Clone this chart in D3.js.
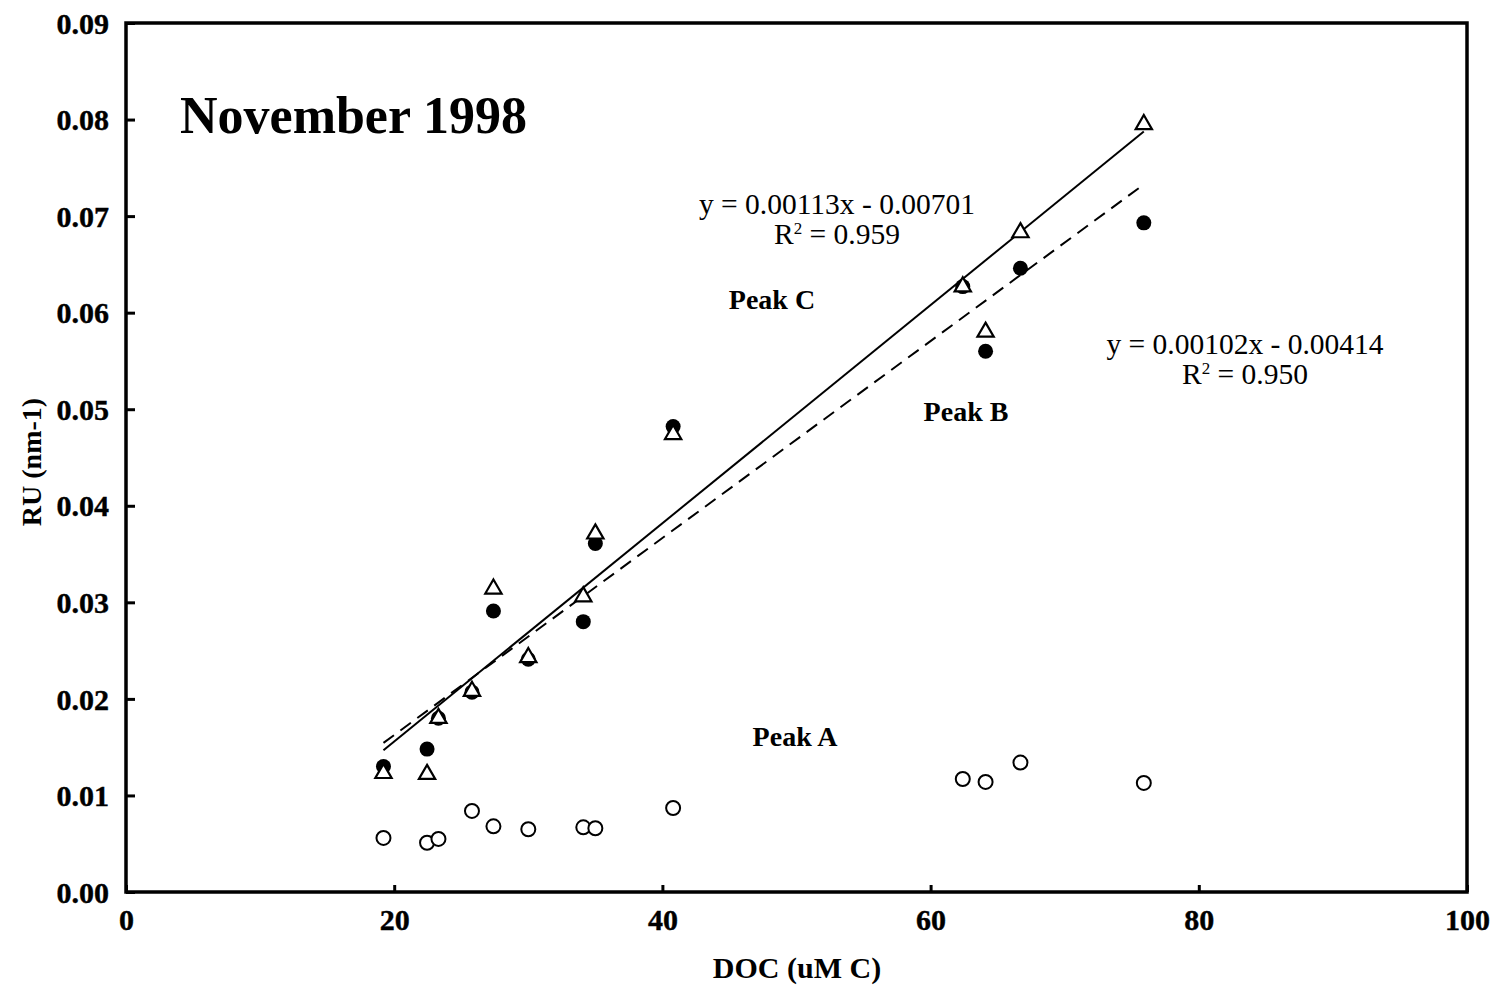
<!DOCTYPE html>
<html>
<head>
<meta charset="utf-8">
<script src="https://cdn.jsdelivr.net/npm/d3@7"></script>
<style>
  html, body { margin: 0; padding: 0; background: #fff; }
  svg { display: block; }
  text { font-family: "Liberation Serif", "Times New Roman", serif; fill: #000; }
</style>
</head>
<body>
<svg id="chart" width="1497" height="993"></svg>
<script>
// DOC concentration of each sample (uM C)
const doc = [19.2, 22.45, 23.3, 25.8, 27.4, 30.0, 34.1, 35.0, 40.8, 62.4, 64.1, 66.7, 75.9];
// Fluorescence intensity (RU, nm-1) for each peak
const peakC = [0.0124, 0.0123, 0.0181, 0.0209, 0.0315, 0.0244, 0.0307, 0.0372, 0.0475, 0.0628, 0.0581, 0.0684, 0.0796];
const peakB = [0.0130, 0.0148, 0.0180, 0.0207, 0.0291, 0.0241, 0.0280, 0.0361, 0.0482, 0.0627, 0.0560, 0.0646, 0.0693];
const peakA = [0.0056, 0.0051, 0.0055, 0.0084, 0.0068, 0.0065, 0.0067, 0.0066, 0.0087, 0.0117, 0.0114, 0.0134, 0.0113];

// Linear fits: [slope, intercept]
const fitC = [0.00113, -0.00701];
const fitB = [0.00102, -0.00414];
const fitRange = [19.2, 75.9];

const xTicks = [0, 20, 40, 60, 80, 100];
const yTicks = [0, 0.01, 0.02, 0.03, 0.04, 0.05, 0.06, 0.07, 0.08, 0.09];

const svg = d3.select("#chart");
const plotL = 126, plotR = 1467, plotT = 23, plotB = 892;

const x = d3.scaleLinear().domain([0, 100]).range([plotL, plotR]);
const y = d3.scaleLinear().domain([0, 0.09]).range([plotB, plotT]);

// Axes with inward ticks
const xAxis = d3.axisBottom(x).tickValues(xTicks).tickSize(-7).tickPadding(17).tickFormat(d3.format("d"));
const yAxis = d3.axisLeft(y).tickValues(yTicks).tickSize(-9).tickPadding(17).tickFormat(d3.format(".2f"));

const gx = svg.append("g").attr("transform", `translate(0,${plotB})`).call(xAxis);
const gy = svg.append("g").attr("transform", `translate(${plotL},0)`).call(yAxis);
[gx, gy].forEach(g => {
  g.select(".domain").remove();
  g.selectAll(".tick line").attr("stroke", "#000").attr("stroke-width", 3);
  g.selectAll(".tick text")
    .style("font-family", '"Liberation Serif", serif')
    .style("font-weight", "bold")
    .style("font-size", "30px")
    .attr("fill", "#000")
    .attr("stroke", "#000").attr("stroke-width", 0.4);
});
gx.selectAll(".tick text").attr("dy", "0.71em");
gy.selectAll(".tick text").attr("dy", "0.34em");

// Plot frame
svg.append("rect")
  .attr("x", plotL).attr("y", plotT)
  .attr("width", plotR - plotL).attr("height", plotB - plotT)
  .attr("fill", "none").attr("stroke", "#000").attr("stroke-width", 3.5);

// Regression lines
const line = d3.line().x(d => x(d[0])).y(d => y(d[1]));
const fitPts = f => fitRange.map(v => [v, f[0] * v + f[1]]);
svg.append("path").attr("d", line(fitPts(fitC)))
  .attr("fill", "none").attr("stroke", "#000").attr("stroke-width", 2);
svg.append("path").attr("d", line(fitPts(fitB)))
  .attr("fill", "none").attr("stroke", "#000").attr("stroke-width", 2)
  .attr("stroke-dasharray", "13,8");

// Peak A: open circles
svg.append("g").selectAll("circle").data(doc.map((d, i) => [d, peakA[i]])).join("circle")
  .attr("cx", d => x(d[0])).attr("cy", d => y(d[1])).attr("r", 7)
  .attr("fill", "#fff").attr("stroke", "#000").attr("stroke-width", 2);

// Peak B: filled circles
svg.append("g").selectAll("circle").data(doc.map((d, i) => [d, peakB[i]])).join("circle")
  .attr("cx", d => x(d[0])).attr("cy", d => y(d[1])).attr("r", 7.5)
  .attr("fill", "#000");

// Peak C: open triangles, drawn over the circles
const tri = d3.symbol().type(d3.symbolTriangle).size(115);
svg.append("g").selectAll("path").data(doc.map((d, i) => [d, peakC[i]])).join("path")
  .attr("d", tri)
  .attr("transform", d => `translate(${x(d[0])},${y(d[1]) + 1})`)
  .attr("fill", "#fff").attr("stroke", "#000").attr("stroke-width", 2.2);

// Title
svg.append("text").attr("x", 180).attr("y", 133)
  .style("font-size", "52px").style("font-weight", "bold")
  .text("November 1998");

// Fit equations
function eqn(cx, cy, slope, icpt, r2) {
  const t = svg.append("text").attr("text-anchor", "middle").style("font-size", "29.5px");
  t.append("tspan").attr("x", cx).attr("y", cy).text(`y = ${slope}x - ${icpt}`);
  const t2 = t.append("tspan").attr("x", cx).attr("y", cy + 30);
  t2.append("tspan").text("R");
  t2.append("tspan").attr("dy", -10).style("font-size", "17px").text("2");
  t2.append("tspan").attr("dy", 10).text(` = ${r2}`);
}
eqn(837, 214, "0.00113", "0.00701", "0.959");
eqn(1245, 354, "0.00102", "0.00414", "0.950");

// Peak labels
const peakLabels = [["Peak C", 772, 309], ["Peak B", 966, 421], ["Peak A", 795, 746]];
svg.append("g").selectAll("text").data(peakLabels).join("text")
  .attr("x", d => d[1]).attr("y", d => d[2]).attr("text-anchor", "middle")
  .style("font-size", "28px").style("font-weight", "bold")
  .text(d => d[0]);

// Axis titles
svg.append("text").attr("x", 797).attr("y", 978).attr("text-anchor", "middle")
  .style("font-size", "30px").style("font-weight", "bold").text("DOC (uM C)");
svg.append("text").attr("transform", "translate(41,462) rotate(-90)").attr("text-anchor", "middle")
  .style("font-size", "28px").style("font-weight", "bold").text("RU (nm-1)");
</script>
</body>
</html>
